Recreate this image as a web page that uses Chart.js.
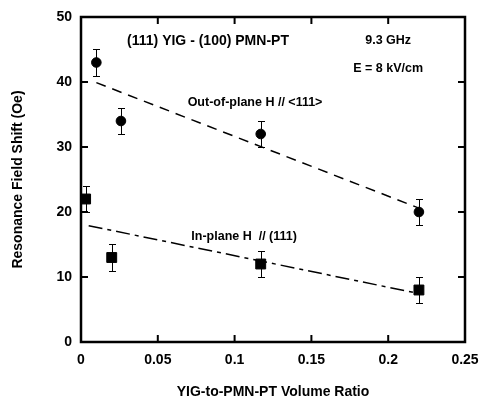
<!DOCTYPE html>
<html>
<head>
<meta charset="utf-8">
<script src="https://cdn.jsdelivr.net/npm/chart.js@4/dist/chart.umd.min.js"></script>
<style>
  body { margin: 0; background: #fff; }
  #wrap { width: 480px; height: 403px; }
</style>
</head>
<body>
<div id="wrap"><canvas id="c"></canvas></div>
<script>
const outX = [0.01, 0.026, 0.117, 0.22];
const outY = [43, 34, 32, 20];
const outErr = [2, 2, 2, 2];
const inX = [0.003, 0.02, 0.117, 0.22];
const inY = [22, 13, 12, 8];
const inErr = [2, 2, 2, 2];
const outFitX = [0.01, 0.22];
const outFitY = [39.9, 20.6];
const inFitX = [0.005, 0.22];
const inFitY = [17.9, 7.45];
const xTicks = [0, 0.05, 0.1, 0.15, 0.2, 0.25];
const yTicks = [0, 10, 20, 30, 40, 50];

const pts = (xs, ys) => xs.map((x, i) => ({ x: x, y: ys[i] }));
const FONT = "'Liberation Sans', Arial, sans-serif";

const errorBars = {
  id: "errorBars",
  beforeDatasetsDraw(chart) {
    const ctx = chart.ctx;
    const xs = chart.scales.x, ys = chart.scales.y;
    const draw = (xv, yv, ev) => {
      ctx.save();
      ctx.strokeStyle = "#000";
      ctx.lineWidth = 1;
      xv.forEach((x, i) => {
        const px = Math.round(xs.getPixelForValue(x)) + 0.5;
        const top = Math.round(ys.getPixelForValue(yv[i] + ev[i])) + 0.5;
        const bot = Math.round(ys.getPixelForValue(yv[i] - ev[i])) + 0.5;
        ctx.beginPath();
        ctx.moveTo(px, top); ctx.lineTo(px, bot);
        ctx.moveTo(px - 3.5, top); ctx.lineTo(px + 3.5, top);
        ctx.moveTo(px - 3.5, bot); ctx.lineTo(px + 3.5, bot);
        ctx.stroke();
      });
      ctx.restore();
    };
    draw(outX, outY, outErr);
    draw(inX, inY, inErr);
  }
};

const frame = {
  id: "frame",
  afterDraw(chart) {
    const ctx = chart.ctx;
    const a = chart.chartArea;
    const xs = chart.scales.x, ys = chart.scales.y;
    ctx.save();
    ctx.strokeStyle = "#000";
    ctx.lineWidth = 2.5;
    ctx.strokeRect(a.left, a.top, a.right - a.left, a.bottom - a.top);
    ctx.lineWidth = 2;
    xTicks.forEach((t) => {
      const px = xs.getPixelForValue(t);
      ctx.beginPath();
      ctx.moveTo(px, a.bottom); ctx.lineTo(px, a.bottom - 7);
      ctx.moveTo(px, a.top); ctx.lineTo(px, a.top + 7);
      ctx.stroke();
    });
    yTicks.forEach((t) => {
      const py = ys.getPixelForValue(t);
      ctx.beginPath();
      ctx.moveTo(a.left, py); ctx.lineTo(a.left + 7, py);
      ctx.moveTo(a.right, py); ctx.lineTo(a.right - 7, py);
      ctx.stroke();
    });
    // text labels placed in data coordinates
    ctx.fillStyle = "#000";
    ctx.textBaseline = "middle";
    ctx.textAlign = "center";
    const label = (txt, x, y, size) => {
      ctx.font = "bold " + size + "px " + FONT;
      ctx.fillText(txt, xs.getPixelForValue(x), ys.getPixelForValue(y));
    };
    label("(111) YIG - (100) PMN-PT", 0.0827, 46.35, 14);
    label("9.3 GHz", 0.2, 46.35, 12.5);
    label("E = 8 kV/cm", 0.2, 42.1, 12.5);
    label("Out-of-plane H // <111>", 0.1133, 36.8, 12.5);
    label("In-plane H  // (111)", 0.1062, 16.3, 12.5);
    ctx.restore();
  }
};

new Chart(document.getElementById("c"), {
  type: "scatter",
  data: {
    datasets: [
      {
        label: "Out-of-plane",
        data: pts(outX, outY),
        pointStyle: "circle",
        pointRadius: 4.8,
        backgroundColor: "#000",
        borderColor: "#000",
        showLine: false,
      },
      {
        label: "In-plane",
        data: pts(inX, inY),
        pointStyle: "rect",
        pointRadius: 7,
        backgroundColor: "#000",
        borderColor: "#000",
        showLine: false,
      },
      {
        label: "fit out",
        data: pts(outFitX, outFitY),
        showLine: true,
        pointRadius: 0,
        borderColor: "#000",
        borderWidth: 1.5,
        borderDash: [10, 7],
      },
      {
        label: "fit in",
        data: pts(inFitX, inFitY),
        showLine: true,
        pointRadius: 0,
        borderColor: "#000",
        borderWidth: 1.5,
        borderDash: [14, 5, 4, 5],
      },
    ],
  },
  options: {
    responsive: true,
    maintainAspectRatio: false,
    animation: false,
    layout: { padding: { top: 17, right: 15, left: 0, bottom: 0 } },
    plugins: {
      legend: { display: false },
      tooltip: { enabled: false },
    },
    scales: {
      x: {
        type: "linear",
        min: 0,
        max: 0.25,
        afterBuildTicks: (s) => { s.ticks = xTicks.map((v) => ({ value: v })); },
        afterFit: (s) => { s.height = 61; s.paddingLeft = 0; s.paddingRight = 0; },
        grid: { display: false, drawTicks: false },
        border: { display: false },
        ticks: {
          color: "#000",
          padding: 10,
          maxRotation: 0,
          font: { family: FONT, size: 14, weight: "bold" },
          callback: (v) => String(v),
        },
        title: {
          display: true,
          text: "YIG-to-PMN-PT Volume Ratio",
          color: "#000",
          padding: { top: 4, bottom: 2 },
          font: { family: FONT, size: 14, weight: "bold" },
        },
      },
      y: {
        type: "linear",
        min: 0,
        max: 50,
        afterBuildTicks: (s) => { s.ticks = yTicks.map((v) => ({ value: v })); },
        afterFit: (s) => { s.width = 81; s.paddingTop = 0; s.paddingBottom = 0; },
        grid: { display: false, drawTicks: false },
        border: { display: false },
        ticks: {
          color: "#000",
          padding: 9,
          font: { family: FONT, size: 14, weight: "bold" },
        },
        title: {
          display: true,
          text: "Resonance Field Shift (Oe)",
          color: "#000",
          padding: { top: 10, bottom: 0 },
          font: { family: FONT, size: 14, weight: "bold" },
        },
      },
    },
  },
  plugins: [errorBars, frame],
});
</script>
</body>
</html>
